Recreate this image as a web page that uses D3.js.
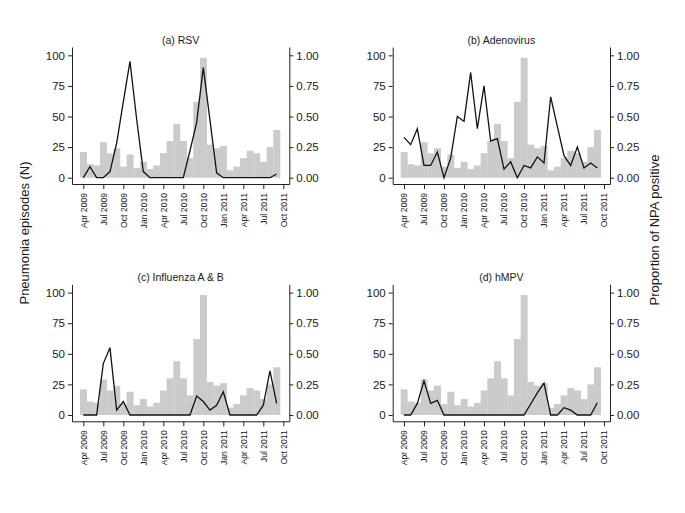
<!DOCTYPE html>
<html><head><meta charset="utf-8">
<script src="https://cdn.jsdelivr.net/npm/d3@7"></script>
<style>body{margin:0;background:#fff}text{font-family:"Liberation Sans",Arial,sans-serif;fill:#1a1a1a}</style>
</head><body><svg id="c" width="685" height="513"></svg>
<script>
const months = ["Apr 2009","May 2009","Jun 2009","Jul 2009","Aug 2009","Sep 2009","Oct 2009","Nov 2009","Dec 2009","Jan 2010","Feb 2010","Mar 2010","Apr 2010","May 2010","Jun 2010","Jul 2010","Aug 2010","Sep 2010","Oct 2010","Nov 2010","Dec 2010","Jan 2011","Feb 2011","Mar 2011","Apr 2011","May 2011","Jun 2011","Jul 2011","Aug 2011","Sep 2011"];
const tickLabels = ["Apr 2009","Jul 2009","Oct 2009","Jan 2010","Apr 2010","Jul 2010","Oct 2010","Jan 2011","Apr 2011","Jul 2011","Oct 2011"];
const leftTicks = [0,25,50,75,100];
const rightTicks = [0,0.25,0.5,0.75,1];
const episodes = [21,11,10,29,20,24,9,19,8,13,7,10,20,30,44,30,16,62,98,27,24,26,6,9,16,22,20,13,25,39];
const rsv = [0,0.09,0,0,0.05,0.28,0.62,0.95,0.48,0.05,0,0,0,0,0,0,0.22,0.45,0.90,0.47,0.04,0,0,0,0,0,0,0,0,0.03];
const adeno = [0.33,0.27,0.40,0.10,0.10,0.21,0,0.16,0.50,0.46,0.86,0.40,0.75,0.30,0.32,0.07,0.13,0,0.10,0.08,0.17,0.12,0.66,0.42,0.18,0.10,0.25,0.08,0.12,0.08];
const flu = [0,0,0,0.42,0.55,0.04,0.11,0,0,0,0,0,0,0,0,0,0,0.155,0.11,0.04,0.08,0.19,0,0,0,0,0,0.08,0.36,0.095];
const hmpv = [0,0,0.095,0.28,0.095,0.12,0,0,0,0,0,0,0,0,0,0,0,0,0,0.09,0.18,0.26,0,0,0.06,0.04,0,0,0,0.10];
const titles = ["(a) RSV","(b) Adenovirus","(c) Influenza A & B","(d) hMPV"];
const series = [rsv, adeno, flu, hmpv];

const svg = d3.select("#c");
const origins = [[72,0],[392.7,0],[72,237.3],[392.7,237.3]];
const W = 217.3;
series.forEach((vals,k)=>{
  const [ox,oy] = origins[k];
  const g = svg.append("g");
  const x = d3.scaleLinear().domain([-1.695,30.9]).range([ox, ox+W]);
  const y = d3.scaleLinear().domain([-5.15,106.8]).range([oy+184, oy+47]);
  const yr = d3.scaleLinear().domain([-0.0515,1.068]).range([oy+184, oy+47]);
  const bw = x(1)-x(0);
  g.selectAll("rect").data(episodes).join("rect")
    .attr("x",(d,i)=>x(i)-bw/2).attr("width",bw+0.3)
    .attr("y",d=>y(d)).attr("height",d=>y(0)-y(d)).attr("fill","#cbcbcb");
  g.append("path").datum(vals)
    .attr("d", d3.line().x((d,i)=>x(i)).y(d=>yr(d)))
    .attr("fill","none").attr("stroke","#111").attr("stroke-width",1.3).attr("stroke-linejoin","miter");
  const ax = g.append("g").attr("transform",`translate(${ox},0)`)
    .call(d3.axisLeft(y).tickValues(leftTicks).tickSize(4).tickPadding(3).tickSizeOuter(0).tickFormat(d3.format("d")));
  ax.selectAll("text").attr("font-size","11.5px");
  const ar = g.append("g").attr("transform",`translate(${ox+W},0)`)
    .call(d3.axisRight(yr).tickValues(rightTicks).tickSize(4).tickPadding(3).tickSizeOuter(0).tickFormat(d3.format(".2f")));
  ar.selectAll("text").attr("font-size","11.5px");
  const ab = g.append("g").attr("transform",`translate(0,${oy+184})`)
    .call(d3.axisBottom(x).tickValues(d3.range(0,31,3)).tickSize(5).tickSizeOuter(0).tickFormat((d,i)=>tickLabels[i]));
  ab.selectAll("text").attr("font-size","8.6px").attr("transform","rotate(-90)")
    .attr("text-anchor","end").attr("x",-9).attr("y",0).attr("dy","0.32em");
  g.selectAll(".domain, .tick line").attr("stroke","#222");
  g.append("text").attr("x",ox+W/2).attr("y",oy+44).attr("text-anchor","middle")
    .attr("font-size","10.5px").text(titles[k]);
});
svg.append("text").attr("transform","translate(29,233) rotate(-90)").attr("text-anchor","middle")
  .attr("font-size","13px").text("Pneumonia episodes (N)");
svg.append("text").attr("transform","translate(659,230) rotate(-90)").attr("text-anchor","middle")
  .attr("font-size","13px").text("Proportion of NPA positive");
</script></body></html>
